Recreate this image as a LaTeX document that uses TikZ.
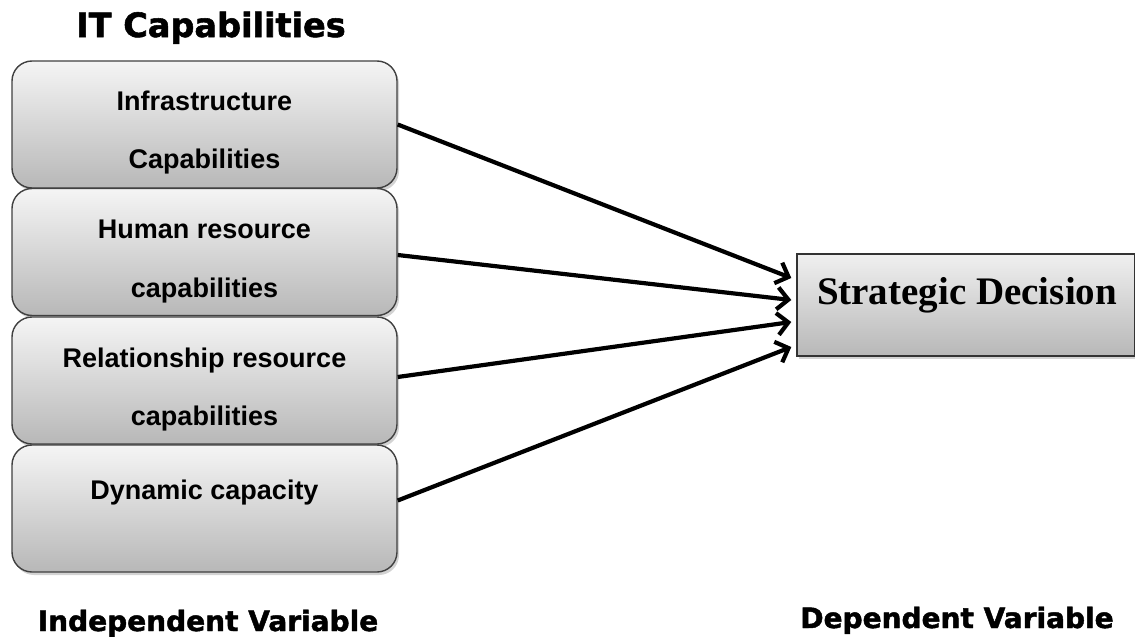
\documentclass[tikz,border=0pt]{standalone}
\usepackage{fontspec}
\setmainfont{Liberation Sans}
\newfontfamily\headfont[BoldFeatures = {FakeBold = 1.6}]{DejaVu Sans}
\newfontfamily\timesfont{Liberation Serif}
\usetikzlibrary{positioning}
\usetikzlibrary{arrows.meta, shadows}

\tikzset{
	capbox/.style = {draw = black!75, line width = 1.4pt, rounded corners = 20pt,
		top color = black!4, bottom color = black!28,
		drop shadow = {opacity = 0.35, shadow xshift = 2pt, shadow yshift = -3pt},
		minimum width = 385pt, minimum height = 127pt, inner sep = 0pt},
	decbox/.style = {draw = black!80, line width = 1.4pt,
		top color = black!6, bottom color = black!28,
		drop shadow = {opacity = 0.35, shadow xshift = 2pt, shadow yshift = -3pt},
		minimum width = 338pt, minimum height = 102pt, inner sep = 0pt},
	captext/.style = {anchor = base, font = \fontsize{27}{30}\selectfont\bfseries},
	headtext/.style = {anchor = base, font = \fontsize{28}{34}\selectfont\headfont\bfseries},
	link/.style = {black, line width = 4.2pt, -{Straight Barb[length = 11pt, width = 22pt]}}
}

\begin{document}
\begin{tikzpicture}[x = 1pt, y = -1pt]
					\useasboundingbox (0, 0) rectangle (1135, 637);
					% boxes
					\node[capbox] (infra) at (204.5, 124.5) {};
					\node[capbox] (human) at (204.5, 252) {};
					\node[capbox] (relation) at (204.5, 380.5) {};
					\node[capbox] (dynamic) at (204.5, 508.5) {};
					\node[decbox] (decision) at (966, 305) {};
					% texts
					\node[headtext, font = \fontsize{33.5}{38}\selectfont\headfont\bfseries] (itcap) at (211, 37) {IT Capabilities};
					\node[captext] (infraA) at (204.5, 110) {Infrastructure};
					\node[captext] (infraB) at (204.5, 168) {Capabilities};
					\node[captext] (humanA) at (204.5, 238) {Human resource};
					\node[captext] (humanB) at (204.5, 297) {capabilities};
					\node[captext] (relationA) at (204.5, 367) {Relationship resource};
					\node[captext] (relationB) at (204.5, 425) {capabilities};
					\node[captext] (dynamicA) at (204.5, 499) {Dynamic capacity};
					\node[anchor = base, font = \fontsize{39}{44}\selectfont\timesfont\bfseries] (decisionA) at (967, 304) {Strategic Decision};
					\node[headtext] (indep) at (208, 631) {Independent Variable};
					\node[headtext] (dep) at (957, 628) {Dependent Variable};
					% arrows
					\draw[link] ([yshift = 0pt]infra.east) -- ([xshift = -5pt, yshift = 27pt]decision.west);
					\draw[link] ([yshift = -3pt]human.east) -- ([xshift = -5pt, yshift = 5pt]decision.west);
					\draw[link] ([yshift = 3.5pt]relation.east) -- ([xshift = -5pt, yshift = -17pt]decision.west);
					\draw[link] ([yshift = 8pt]dynamic.east) -- ([xshift = -5pt, yshift = -42pt]decision.west);
				\end{tikzpicture}
\end{document}
